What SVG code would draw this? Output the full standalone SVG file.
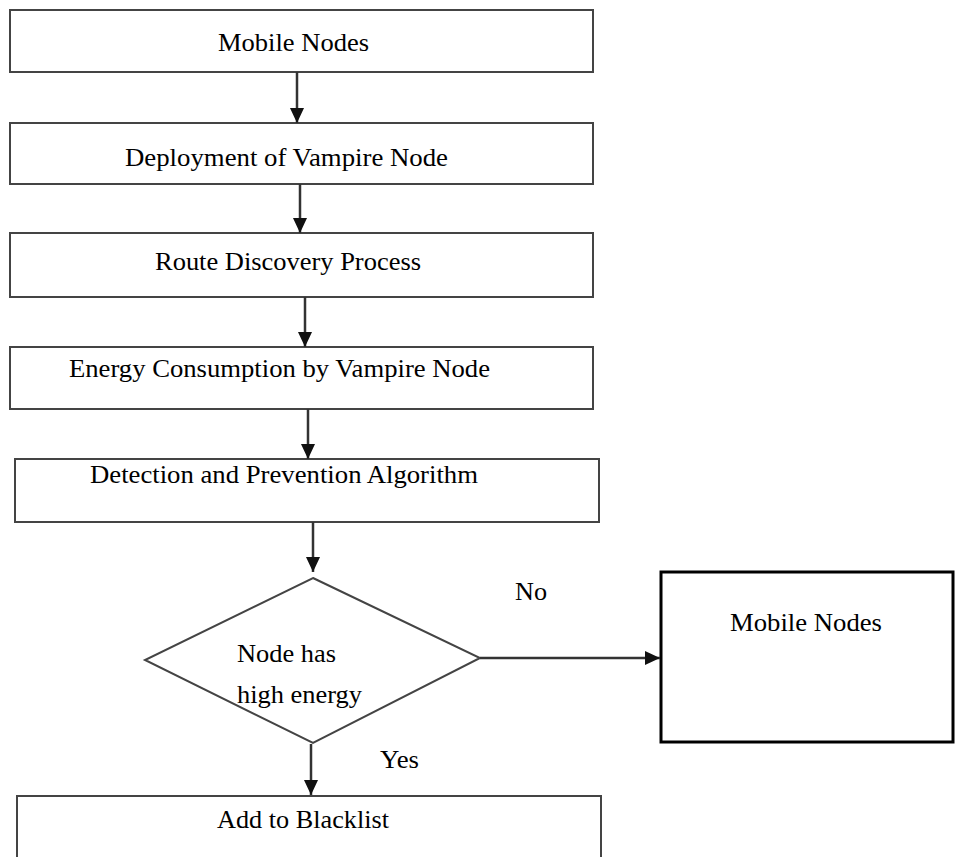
<svg xmlns="http://www.w3.org/2000/svg" width="955" height="857" viewBox="0 0 955 857">
<style>
  .box { fill: #fff; stroke: #444; stroke-width: 2; }
  .bold { fill: #fff; stroke: #000; stroke-width: 3; }
  .t { font-family: "Liberation Serif", "Times New Roman", serif; font-size: 26px; fill: #000; }
  .c { fill: none; stroke: #333; stroke-width: 2.5; }
</style>
<defs>
  <marker id="ah" markerUnits="userSpaceOnUse" markerWidth="16" markerHeight="14" refX="15" refY="7" orient="auto">
    <path d="M0,0 L15,7 L0,14 Z" fill="#111"/>
  </marker>
</defs>
<rect width="955" height="857" fill="#fff"/>
<g id="n1">
  <rect class="box" x="10" y="10" width="583" height="62"/>
  <text class="t" x="218" y="51" textLength="151" lengthAdjust="spacingAndGlyphs">Mobile Nodes</text>
</g>
<g id="n2">
  <rect class="box" x="10" y="123" width="583" height="61"/>
  <text class="t" x="125" y="166" textLength="323" lengthAdjust="spacingAndGlyphs">Deployment of Vampire Node</text>
</g>
<g id="n3">
  <rect class="box" x="10" y="233" width="583" height="64"/>
  <text class="t" x="155" y="270" textLength="266" lengthAdjust="spacingAndGlyphs">Route Discovery Process</text>
</g>
<g id="n4">
  <rect class="box" x="10" y="347" width="583" height="62"/>
  <text class="t" x="69" y="377" textLength="421" lengthAdjust="spacingAndGlyphs">Energy Consumption by Vampire Node</text>
</g>
<g id="n5">
  <rect class="box" x="15" y="459" width="584" height="63"/>
  <text class="t" x="90" y="483" textLength="388" lengthAdjust="spacingAndGlyphs">Detection and Prevention Algorithm</text>
</g>
<g id="n6">
  <polygon class="box" points="313,578 480,658 313,743 145,660"/>
  <text class="t" x="237" y="662" textLength="99" lengthAdjust="spacingAndGlyphs">Node has</text>
  <text class="t" x="237" y="703" textLength="125" lengthAdjust="spacingAndGlyphs">high energy</text>
</g>
<g id="n7">
  <rect class="bold" x="661" y="572" width="292" height="170"/>
  <text class="t" x="730" y="631" textLength="152" lengthAdjust="spacingAndGlyphs">Mobile Nodes</text>
</g>
<g id="n8">
  <path class="box" d="M17,870 L17,796 L601,796 L601,870"/>
  <text class="t" x="217" y="828" textLength="172" lengthAdjust="spacingAndGlyphs">Add to Blacklist</text>
</g>
<g id="connectors">
  <line class="c" x1="297" y1="72" x2="297" y2="123" marker-end="url(#ah)"/>
  <line class="c" x1="300" y1="184" x2="300" y2="233" marker-end="url(#ah)"/>
  <line class="c" x1="305" y1="297" x2="305" y2="347" marker-end="url(#ah)"/>
  <line class="c" x1="308" y1="409" x2="308" y2="459" marker-end="url(#ah)"/>
  <line class="c" x1="313" y1="522" x2="313" y2="572" marker-end="url(#ah)"/>
  <line class="c" x1="480" y1="658" x2="660" y2="658" marker-end="url(#ah)"/>
  <line class="c" x1="311" y1="744" x2="311" y2="795" marker-end="url(#ah)"/>
  <text class="t" x="515" y="600" textLength="32" lengthAdjust="spacingAndGlyphs">No</text>
  <text class="t" x="380" y="768" textLength="39" lengthAdjust="spacingAndGlyphs">Yes</text>
</g>
</svg>
